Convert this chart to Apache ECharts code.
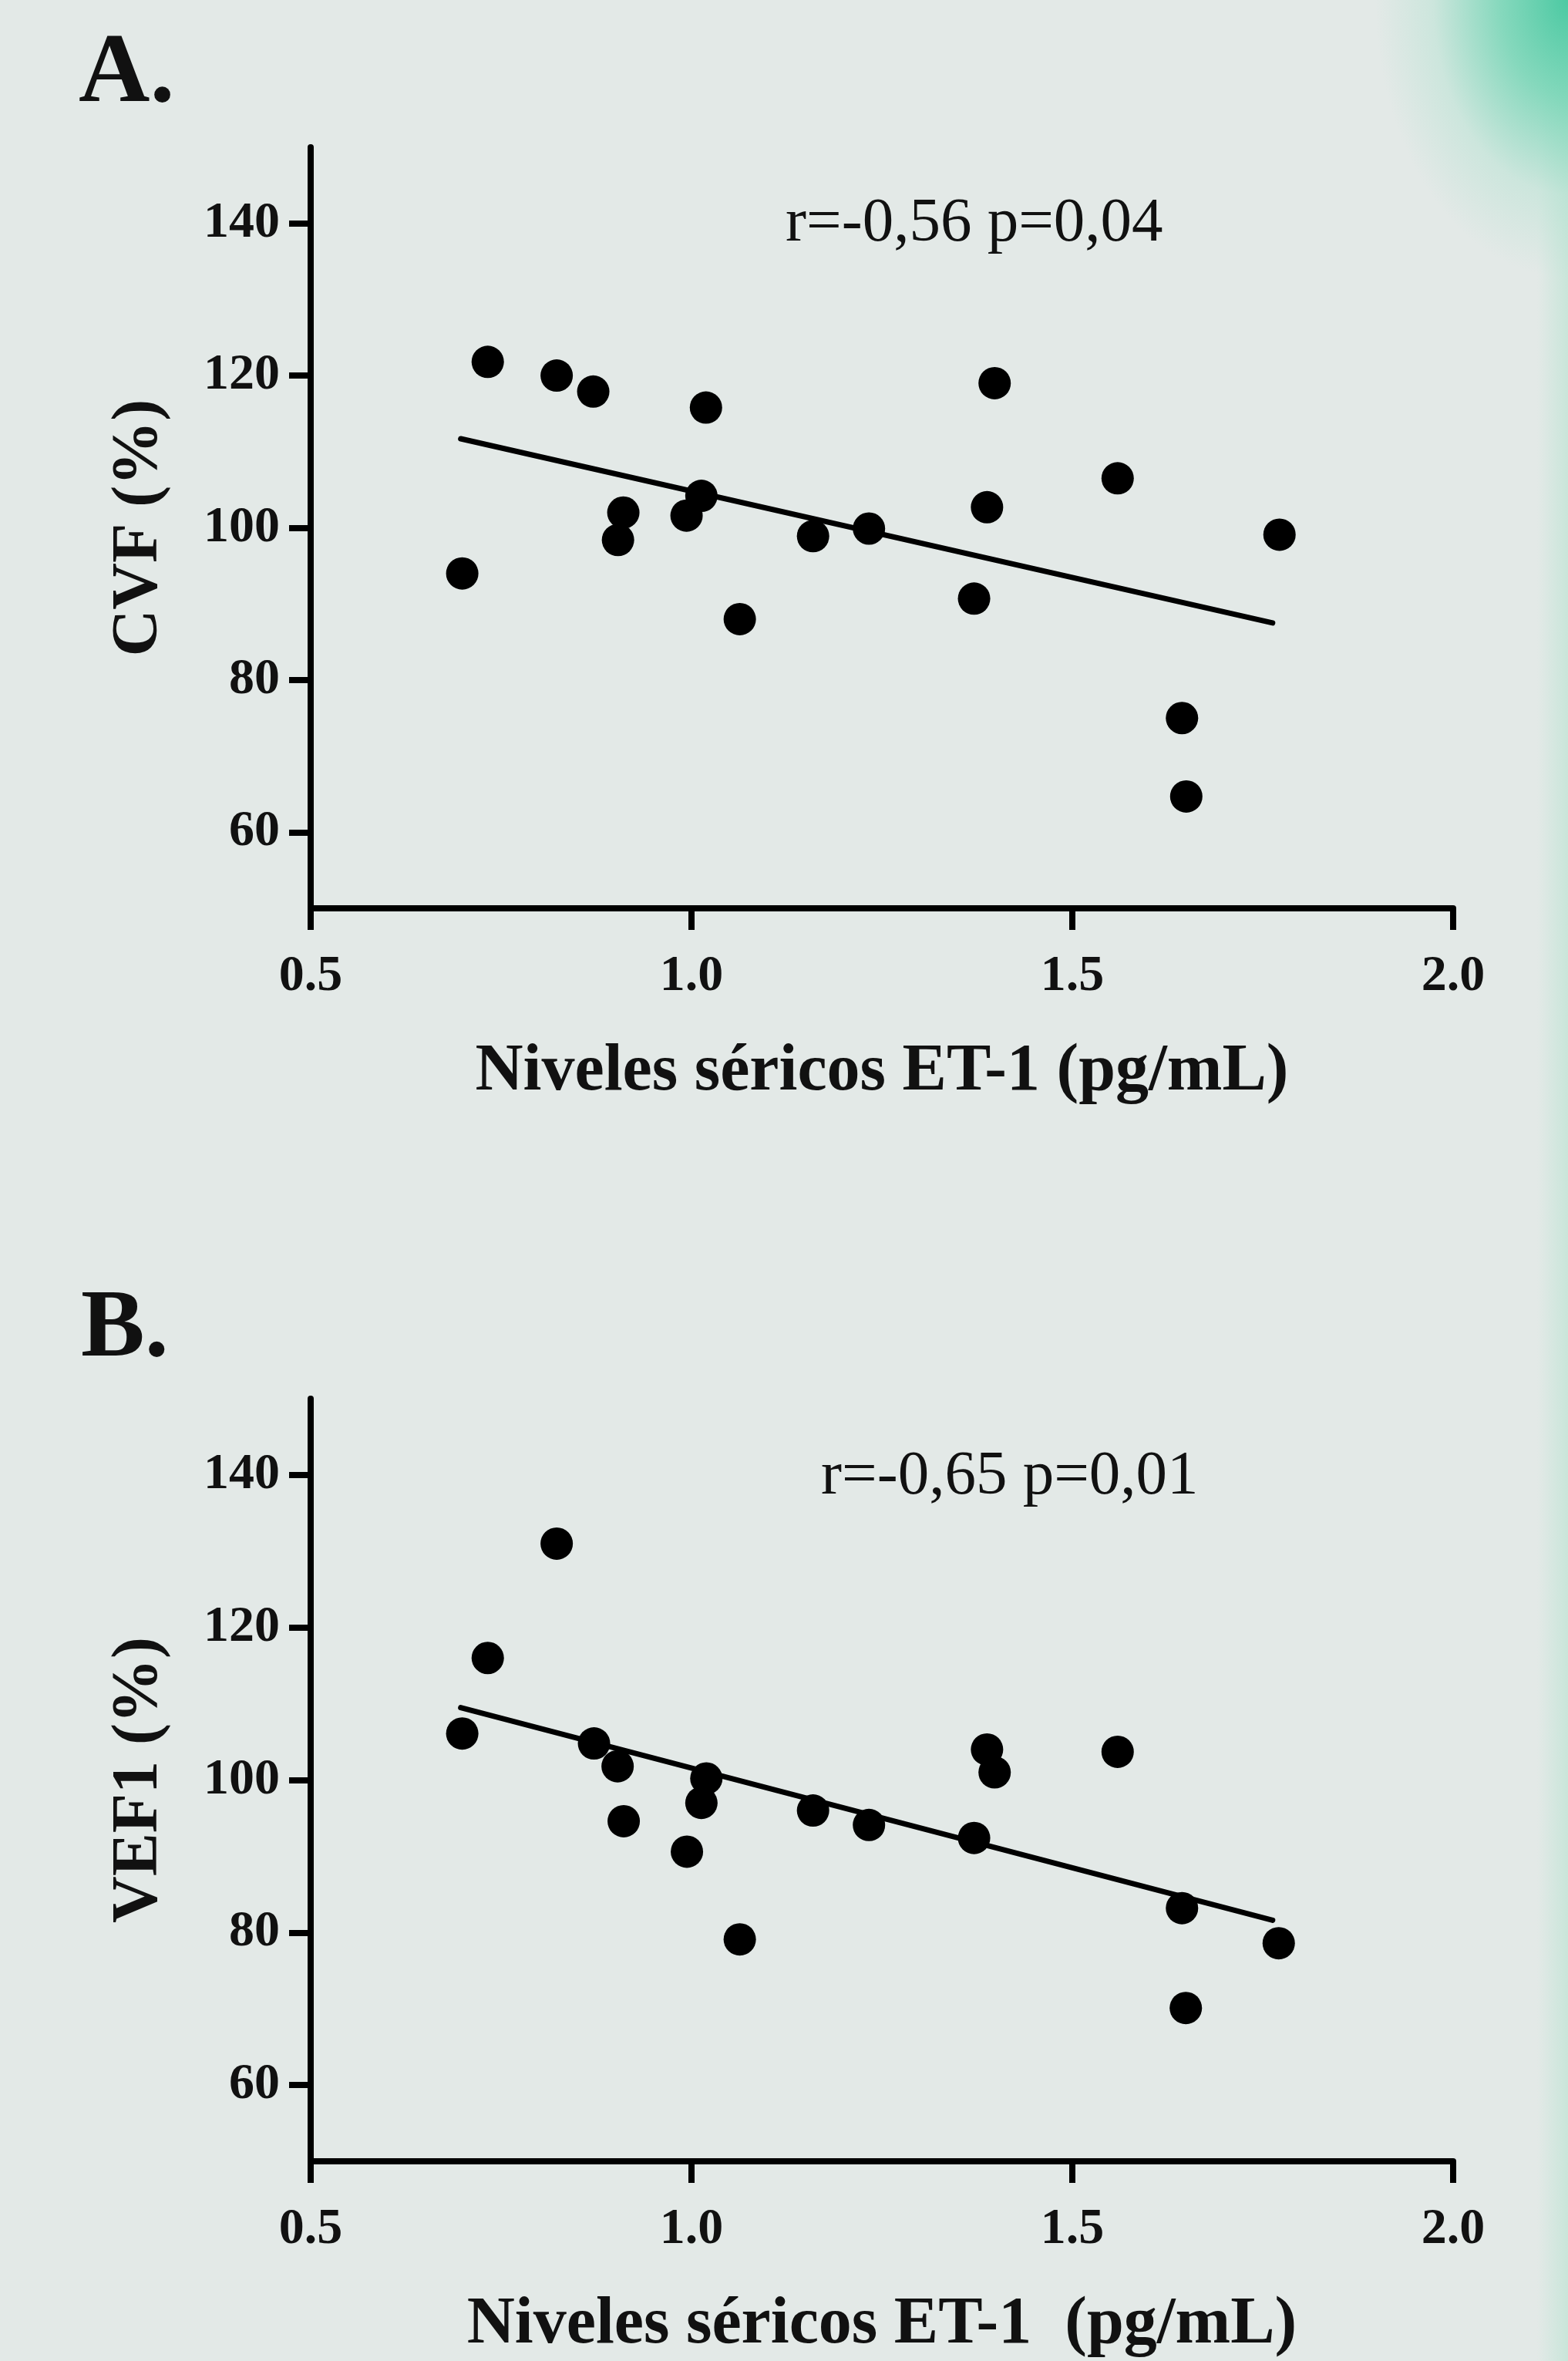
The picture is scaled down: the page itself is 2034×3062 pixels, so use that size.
<!DOCTYPE html>
<html>
<head>
<meta charset="utf-8">
<script src="https://cdn.jsdelivr.net/npm/echarts@6/dist/echarts.min.js"></script>
<style>
  html, body { margin: 0; padding: 0; }
  body {
    width: 2034px; height: 3062px; overflow: hidden;
    background:
      radial-gradient(ellipse 250px 360px at 2034px 0px, rgba(70,200,160,0.95) 0%, rgba(110,212,178,0.8) 35%, rgba(170,225,205,0.4) 70%, rgba(227,233,231,0) 100%),
      linear-gradient(to left, rgba(190,228,212,0.7) 0px, rgba(227,233,231,0) 40px),
      #e3e9e7;
  }
  #chart { width: 2034px; height: 3062px; }
</style>
</head>
<body>
<div id="chart"></div>
<script>
// ---- data ----
const etA  = [0.699, 0.7325, 0.823, 0.871, 0.9035, 0.9105, 0.9935, 1.013, 1.019, 1.0634, 1.1596, 1.233, 1.371, 1.388, 1.398, 1.5595, 1.644, 1.6496, 1.772];
const cvf  = [94.0, 121.8, 120.0, 117.9, 98.4, 102.0, 101.6, 104.2, 115.8, 88.0, 98.9, 99.9, 90.7, 102.7, 119.0, 106.5, 75.0, 64.7, 99.1];
const etB  = [0.699, 0.7325, 0.823, 0.872, 0.903, 0.911, 0.994, 1.013, 1.0195, 1.0634, 1.1596, 1.233, 1.371, 1.388, 1.398, 1.5595, 1.644, 1.649, 1.771];
const vef1 = [106.1, 116.0, 131.0, 104.8, 101.8, 94.6, 90.6, 97.0, 100.2, 79.1, 96.0, 94.1, 92.4, 104.0, 101.0, 103.7, 83.2, 70.1, 78.6];
const trendAx = [0.697, 1.763];
const trendAy = [111.7, 87.5];
const trendBx = [0.697, 1.763];
const trendBy = [109.5, 81.6];
const xTicks = [0.5, 1.0, 1.5, 2.0];
const yTicks = [60, 80, 100, 120, 140];
const panelLabels = ['A.', 'B.'];
const statsText = ['r=-0,56 p=0,04', 'r=-0,65 p=0,01'];
const xTitles = ['Niveles séricos ET-1 (pg/mL)', 'Niveles séricos ET-1  (pg/mL)'];
const yTitles = ['CVF (%)', 'VEF1 (%)'];

const SERIF = '"Liberation Serif", "Times New Roman", serif';
const pairs = (xs, ys) => xs.map((x, i) => [x, ys[i]]);

const chart = echarts.init(document.getElementById('chart'), null, { renderer: 'canvas' });

function xAxisFor(gi) {
  return {
    type: 'value', gridIndex: gi, min: 0.5, max: 2.0, interval: 0.5,
    name: xTitles[gi], nameLocation: 'middle', nameGap: 170,
    nameTextStyle: { fontFamily: SERIF, fontWeight: 'bold', fontSize: 86, color: '#111' },
    axisLine: { show: true, onZero: false, lineStyle: { color: '#000', width: 8 } },
    axisTick: { show: true, length: 28, lineStyle: { color: '#000', width: 8 }, customValues: xTicks },
    axisLabel: { fontFamily: SERIF, fontWeight: 'bold', fontSize: 66, color: '#111', margin: 56,
                 customValues: xTicks, formatter: v => v.toFixed(1) },
    splitLine: { show: false }
  };
}
function yAxisFor(gi) {
  return {
    type: 'value', gridIndex: gi, min: 50, max: 150,
    name: yTitles[gi], nameLocation: 'middle', nameGap: 180,
    nameTextStyle: { fontFamily: SERIF, fontWeight: 'bold', fontSize: 84, color: '#111' },
    axisLine: { show: true, onZero: false, lineStyle: { color: '#000', width: 8 } },
    axisTick: { show: true, length: 28, lineStyle: { color: '#000', width: 8 }, customValues: yTicks },
    axisLabel: { fontFamily: SERIF, fontWeight: 'bold', fontSize: 66, color: '#111', margin: 40,
                 customValues: yTicks },
    splitLine: { show: false }
  };
}

const option = {
  backgroundColor: 'transparent',
  animation: false,
  grid: [
    { left: 403, top: 191, width: 1482, height: 987 },
    { left: 403, top: 1814, width: 1482, height: 989 }
  ],
  xAxis: [xAxisFor(0), xAxisFor(1)],
  yAxis: [yAxisFor(0), yAxisFor(1)],
  series: [
    { type: 'line', xAxisIndex: 0, yAxisIndex: 0, data: pairs(trendAx, trendAy), symbol: 'none',
      lineStyle: { color: '#000', width: 7, cap: 'round' }, z: 2 },
    { type: 'scatter', xAxisIndex: 0, yAxisIndex: 0, data: pairs(etA, cvf), symbol: 'circle', symbolSize: 42,
      itemStyle: { color: '#000', opacity: 1 }, z: 3 },
    { type: 'line', xAxisIndex: 1, yAxisIndex: 1, data: pairs(trendBx, trendBy), symbol: 'none',
      lineStyle: { color: '#000', width: 7, cap: 'round' }, z: 2 },
    { type: 'scatter', xAxisIndex: 1, yAxisIndex: 1, data: pairs(etB, vef1), symbol: 'circle', symbolSize: 42,
      itemStyle: { color: '#000', opacity: 1 }, z: 3 }
  ],
  graphic: [
    { type: 'text', left: 102, top: 34, style: { text: panelLabels[0], font: 'bold 128px ' + SERIF, fill: '#111' } },
    { type: 'text', left: 105, top: 1664, style: { text: panelLabels[1], font: 'bold 124px ' + SERIF, fill: '#111' } },
    { type: 'text', left: 1019, top: 250, style: { text: statsText[0], font: '81px ' + SERIF, fill: '#111' } },
    { type: 'text', left: 1065, top: 1875, style: { text: statsText[1], font: '81px ' + SERIF, fill: '#111' } }
  ]
};
chart.setOption(option);
</script>
</body>
</html>
